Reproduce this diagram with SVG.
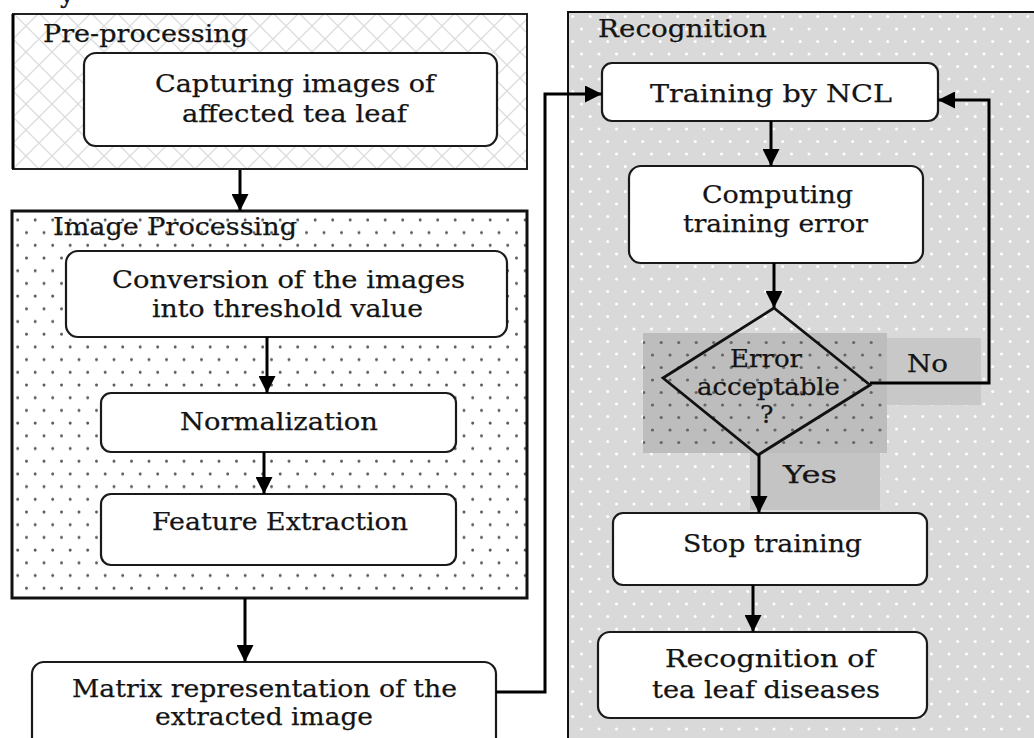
<svg xmlns="http://www.w3.org/2000/svg" width="1034" height="738" viewBox="0 0 1034 738">
<style>
text{font-family:"DejaVu Serif","Liberation Serif",serif;font-size:25px;fill:#141414;stroke:#141414;stroke-width:0.25}
.box{fill:#fff;stroke:#1a1a1a;stroke-width:2.2}
.con{fill:none;stroke:#000;stroke-width:3}
.arr{marker-end:url(#ah)}
</style>
<defs>
<marker id="ah" viewBox="0 0 10 10" refX="10" refY="5" markerWidth="17" markerHeight="17" markerUnits="userSpaceOnUse" orient="auto"><path d="M0,0L10,5L0,10z" fill="#000"/></marker>
<pattern id="hatch" width="26" height="26" patternUnits="userSpaceOnUse"><rect width="26" height="26" fill="#fff"/><path d="M0,26L26,0M0,0L26,26" stroke="#dcdcdc" stroke-width="1.3"/></pattern>
<pattern id="dotsW" x="5" y="0" width="35" height="25.4" patternUnits="userSpaceOnUse"><rect width="35" height="25.4" fill="#fff"/><circle cx="4" cy="4" r="1.5" fill="#5a5a5a"/><circle cx="21.5" cy="4" r="1.5" fill="#5a5a5a"/><circle cx="12.7" cy="16.7" r="1.5" fill="#5a5a5a"/><circle cx="30.2" cy="16.7" r="1.5" fill="#5a5a5a"/></pattern>
<pattern id="dotsG" width="35" height="25" patternUnits="userSpaceOnUse"><rect width="35" height="25" fill="#d9d9d9"/><circle cx="4" cy="4" r="1.5" fill="#fff"/><circle cx="21.5" cy="4" r="1.5" fill="#fff"/><circle cx="12.7" cy="16.5" r="1.5" fill="#fff"/><circle cx="30.2" cy="16.5" r="1.5" fill="#fff"/></pattern>
<pattern id="dotsD" width="35" height="25" patternUnits="userSpaceOnUse"><rect width="35" height="25" fill="#bdbdbd"/><circle cx="5" cy="5" r="1.6" fill="#666"/><circle cx="22.5" cy="5" r="1.6" fill="#666"/><circle cx="13.7" cy="17.5" r="1.6" fill="#666"/><circle cx="31.2" cy="17.5" r="1.6" fill="#666"/></pattern>
</defs>
<rect width="1034" height="738" fill="#fff"/>
<text x="60" y="3">y</text>

<g id="preprocessing">
<rect x="13" y="14" width="514" height="155" fill="url(#hatch)" stroke="#222" stroke-width="2"/>
<line x1="13" y1="14" x2="13" y2="169" stroke="#000" stroke-width="3"/>
<text x="43" y="42" textLength="205" lengthAdjust="spacingAndGlyphs">Pre-processing</text>
</g>
<g id="capture">
<rect class="box" x="84" y="53" width="413" height="93" rx="12"/>
<text x="155" y="92" textLength="280" lengthAdjust="spacingAndGlyphs">Capturing images of</text>
<text x="182" y="122" textLength="225" lengthAdjust="spacingAndGlyphs">affected tea leaf</text>
</g>

<g id="imageprocessing">
<rect x="12" y="211" width="515" height="387" fill="url(#dotsW)" stroke="#111" stroke-width="3"/>
<text x="53" y="235" textLength="244" lengthAdjust="spacingAndGlyphs">Image Processing</text>
</g>
<g id="conversion">
<rect class="box" x="66" y="251" width="441" height="86" rx="12"/>
<text x="112" y="288" textLength="353" lengthAdjust="spacingAndGlyphs">Conversion of the images</text>
<text x="152" y="317" textLength="271" lengthAdjust="spacingAndGlyphs">into threshold value</text>
</g>
<g id="normalization">
<rect class="box" x="101" y="393" width="355" height="59" rx="10"/>
<text x="180" y="430" textLength="198" lengthAdjust="spacingAndGlyphs">Normalization</text>
</g>
<g id="feature">
<rect class="box" x="101" y="494" width="355" height="71" rx="10"/>
<text x="152" y="530" textLength="256" lengthAdjust="spacingAndGlyphs">Feature Extraction</text>
</g>
<g id="matrix">
<rect class="box" x="32" y="662" width="464" height="95" rx="12"/>
<text x="72" y="697" textLength="385" lengthAdjust="spacingAndGlyphs">Matrix representation of the</text>
<text x="155" y="725" textLength="218" lengthAdjust="spacingAndGlyphs">extracted image</text>
</g>

<g id="recognition-panel">
<rect x="568" y="12" width="480" height="740" fill="url(#dotsG)" stroke="#111" stroke-width="2"/>
<text x="598" y="37" textLength="169" lengthAdjust="spacingAndGlyphs">Recognition</text>
<rect x="643" y="333" width="244" height="120" fill="url(#dotsD)"/>
<rect x="887" y="338" width="94" height="67" fill="#c8c8c8"/>
<rect x="750" y="453" width="130" height="57" fill="#c4c4c4"/>
</g>
<g id="training">
<rect class="box" x="602" y="63" width="336" height="58" rx="10"/>
<text x="650" y="102" textLength="242" lengthAdjust="spacingAndGlyphs">Training by NCL</text>
</g>
<g id="computing">
<rect class="box" x="629" y="166" width="294" height="97" rx="12"/>
<text x="702" y="203" textLength="151" lengthAdjust="spacingAndGlyphs">Computing</text>
<text x="683" y="232" textLength="185" lengthAdjust="spacingAndGlyphs">training error</text>
</g>
<g id="decision">
<polygon points="774,308 870,385 758,455 663,378" fill="none" stroke="#111" stroke-width="2.8"/>
<text x="730" y="367" textLength="72" lengthAdjust="spacingAndGlyphs">Error</text>
<text x="697" y="395" textLength="143" lengthAdjust="spacingAndGlyphs">acceptable</text>
<text x="760" y="423">?</text>
</g>
<g id="stop">
<rect class="box" x="613" y="513" width="314" height="72" rx="10"/>
<text x="683" y="552" textLength="179" lengthAdjust="spacingAndGlyphs">Stop training</text>
</g>
<g id="result">
<rect class="box" x="598" y="632" width="329" height="86" rx="12"/>
<text x="665" y="667" textLength="210" lengthAdjust="spacingAndGlyphs">Recognition of</text>
<text x="652" y="698" textLength="228" lengthAdjust="spacingAndGlyphs">tea leaf diseases</text>
</g>

<g id="connectors">
<path class="con arr" d="M240,170V211"/>
<path class="con arr" d="M267,337V393"/>
<path class="con arr" d="M264,452V494"/>
<path class="con arr" d="M245,598V662"/>
<path class="con arr" d="M496,692H545V94H602"/>
<path class="con arr" d="M771,121V166"/>
<path class="con arr" d="M774,263V308"/>
<path class="con arr" d="M870,383H989V100H938"/>
<path class="con arr" d="M759,455V513"/>
<path class="con arr" d="M753,585V632"/>
<text x="907" y="372" textLength="41" lengthAdjust="spacingAndGlyphs">No</text>
<text x="783" y="483" textLength="54" lengthAdjust="spacingAndGlyphs">Yes</text>
</g>
</svg>
